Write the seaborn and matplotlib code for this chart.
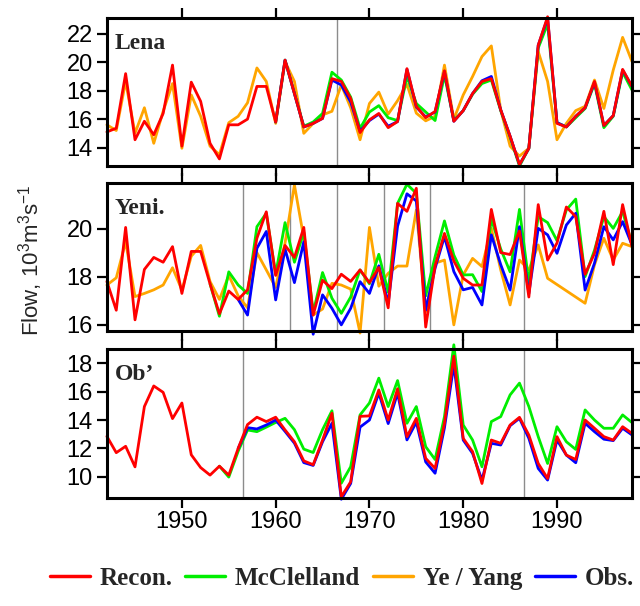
import numpy as np
import pandas as pd
import matplotlib
matplotlib.use("Agg")
import matplotlib.pyplot as plt
from matplotlib.lines import Line2D
import seaborn as sns

# ---------------- data ----------------
years_full = list(range(1942, 1999))

lena_recon = [15.1, 15.36, 19.2, 14.55, 15.85, 14.9, 16.4, 19.8, 14.1, 18.6, 17.25, 14.3, 13.2, 15.6, 15.6,
              16.0, 18.3, 18.3, 15.8, 20.15, 17.8, 15.45, 15.7, 16.05, 18.85, 18.65, 17.45, 15.05, 15.95, 16.4,
              15.4, 15.83, 19.55, 16.9, 16.1, 16.54, 19.4, 15.85, 16.6, 17.8, 18.65, 18.85, 16.65, 14.8, 12.8,
              13.95, 21.2, 23.2, 15.7, 15.45, 16.2, 16.8, 18.65, 15.55, 16.25, 19.5, 18.3]
lena_ye = [15.6, 15.2, 18.65, 15.0, 16.8, 14.3, 16.55, 18.5, 13.95, 17.7, 16.2, 14.1, 13.5, 15.75, 16.2,
           17.15, 19.6, 18.65, 15.7, 20.05, 18.65, 15.0, 15.7, 16.3, 16.55, 18.4, 16.8, 14.55, 17.1, 17.9,
           16.35, 17.3, 18.45, 16.42, 15.88, 16.2, 19.8, 16.0, 17.7, 19.0, 20.4, 21.15, 16.65, 14.1, 13.4,
           13.95, 20.75, 18.65, 14.55, 15.7, 16.6, 16.9, 18.75, 16.75, 19.45, 21.75, 20.05]
lena_mc_years = list(range(1960, 1999))
lena_mc = [15.8, 20.15, 17.8, 15.5, 15.8, 16.4, 19.3, 18.75, 17.55, 15.35, 16.5, 16.95, 16.1, 15.9, 19.0,
           17.1, 16.5, 15.9, 19.1, 15.9, 16.6, 17.75, 18.5, 18.75, 16.6, 14.75, 12.7, 13.95, 21.0, 22.7,
           15.75, 15.45, 16.1, 16.75, 18.5, 15.4, 16.2, 19.3, 18.05]
lena_obs_years = list(range(1960, 1999))
lena_obs = [15.8, 20.15, 17.8, 15.45, 15.7, 16.05, 18.75, 18.4, 17.2, 15.15, 15.9, 16.35, 15.5, 15.83, 19.5,
            16.85, 16.15, 16.5, 19.35, 15.85, 16.6, 17.8, 18.7, 19.0, 16.65, 14.8, 12.8, 13.95, 21.2, 23.1,
            15.75, 15.45, 16.2, 16.8, 18.6, 15.55, 16.25, 19.45, 18.3]

yeni_recon = [17.8, 16.6, 20.05, 16.2, 18.3, 18.8, 18.6, 19.25, 17.3, 19.05, 19.05, 17.7, 16.45, 17.4, 17.05,
              17.45, 19.6, 20.7, 18.05, 19.3, 18.8, 20.05, 16.4, 17.85, 17.5, 18.1, 17.8, 18.28, 17.75, 18.38,
              16.7, 21.05, 20.72, 21.68, 15.9, 18.45, 19.8, 18.65, 17.93, 17.65, 17.65, 20.8, 19.0, 18.92, 19.9,
              17.15, 21.0, 18.69, 19.4, 20.9, 20.5, 18.1, 18.97, 20.72, 18.5, 21.0, 19.25]
yeni_ye_years = list(range(1942, 1990)) + list(range(1993, 1999))
yeni_ye = [17.65, 17.95, 19.45, 17.17, 17.3, 17.45, 17.65, 18.37, 17.44, 18.85, 19.3, 17.8, 17.05, 18.05, 17.2,
           16.7, 19.0, 18.28, 17.55, 19.4, 21.82, 19.6, 16.4, 16.65, 17.72, 17.65, 17.48, 15.65, 20.05, 17.6,
           18.14, 18.44, 18.44, 20.78, 16.54, 18.56, 18.69, 15.99, 18.07, 18.76, 18.42, 20.01, 18.28, 16.82, 18.69,
           18.28, 19.32, 17.93,
           16.89, 18.49, 19.6, 18.69, 19.39, 19.25]
yeni_mc_years = list(range(1953, 1999))
yeni_mc = [17.7, 16.35, 18.2, 17.65, 17.3, 20.08, 20.64, 18.1, 20.25, 18.6, 19.85, 16.5, 18.17, 17.1, 16.47,
           17.15, 18.28, 17.7, 18.93, 17.35, 21.05, 21.85, 21.47, 17.2, 18.83, 20.32, 18.9, 18.07, 18.08, 17.38,
           20.4, 19.15, 18.2, 20.8, 17.75, 20.5, 20.25, 19.5, 20.78, 21.23, 18.0, 19.1, 20.5, 20.01, 20.71, 19.35]
yeni_obs_years = list(range(1956, 1999))
yeni_obs = [17.05, 16.4, 19.18, 19.88, 17.03, 19.15, 17.75, 19.45, 15.6, 17.24, 16.68, 15.99, 16.68, 17.79,
            17.3, 18.45, 16.9, 20.1, 21.45, 21.15, 16.6, 18.35, 19.67, 18.21, 17.45, 17.55, 16.82, 19.74, 18.5,
            17.44, 20.08, 17.3, 20.01, 19.74, 18.97, 20.15, 20.64, 17.44, 18.56, 20.08, 19.53, 20.29, 19.32]

ob_recon = [12.85, 11.7, 12.15, 10.7, 14.95, 16.4, 15.95, 14.1, 15.2, 11.55, 10.65, 10.12, 10.75, 10.12, 12.0,
            13.68, 14.2, 13.89, 14.2, 13.3, 12.47, 11.12, 10.85, 12.59, 14.48, 8.59, 9.65, 14.26, 14.29, 16.12,
            14.0, 16.2, 12.83, 14.12, 11.3, 10.59, 13.77, 18.5, 12.71, 11.77, 9.53, 12.59, 12.36, 13.65, 14.19,
            12.94, 10.94, 9.88, 12.83, 11.53, 11.22, 14.0, 13.42, 12.83, 12.59, 13.53, 13.06]
ob_mc_years = list(range(1954, 1999))
ob_mc = [10.75, 9.98, 11.8, 13.3, 13.18, 13.5, 13.83, 14.12, 13.32, 11.95, 11.71, 13.32, 14.65, 9.55, 10.71,
         14.36, 15.2, 16.95, 14.95, 16.78, 13.77, 14.95, 12.12, 11.22, 14.24, 19.3, 13.65, 12.59, 10.71, 13.89,
         14.24, 15.77, 16.6, 14.95, 12.83, 10.94, 13.53, 12.47, 11.93, 14.71, 14.0, 13.42, 13.42, 14.36, 13.82]
ob_obs_years = list(range(1956, 1999))
ob_obs = [12.0, 13.46, 13.37, 13.65, 14.0, 13.2, 12.37, 11.0, 10.8, 12.47, 13.77, 8.42, 9.53, 13.5, 14.0,
          15.9, 13.75, 15.9, 12.6, 13.85, 11.05, 10.25, 13.45, 17.9, 12.59, 11.65, 9.77, 12.36, 12.24, 13.6,
          14.12, 12.71, 10.59, 9.77, 12.59, 11.53, 10.99, 13.77, 13.18, 12.65, 12.55, 13.42, 12.95]

panel_names = ["Lena", "Yeni.", "Ob\u2019"]
series_names = ["Recon.", "McClelland", "Ye / Yang", "Obs."]
break_years = {"Lena": [1966.5],
               "Yeni.": [1956.5, 1961.5, 1966.5, 1971.5, 1976.5, 1986.5],
               "Ob\u2019": [1956.5, 1986.5]}
yticks = {"Lena": [14, 16, 18, 20, 22], "Yeni.": [16, 18, 20], "Ob\u2019": [10, 12, 14, 16, 18]}
ylims = {"Lena": (12.7, 23.1), "Yeni.": (15.74, 21.9), "Ob\u2019": (8.54, 19.0)}
xticks = [1950, 1960, 1970, 1980, 1990]

colors = {"Recon.": "#ff0000", "McClelland": "#00ee00", "Ye / Yang": "#ffa500", "Obs.": "#0000ff"}
draw_order = ["Ye / Yang", "McClelland", "Obs.", "Recon."]


def frame(name, pairs):
    rows = []
    for ser, (yrs, vals) in pairs.items():
        for y, v in zip(yrs, vals):
            rows.append({"year": y, "flow": v, "series": ser, "panel": name})
    return pd.DataFrame(rows)


data = {
    "Lena": frame("Lena", {"Recon.": (years_full, lena_recon), "Ye / Yang": (years_full, lena_ye),
                           "McClelland": (lena_mc_years, lena_mc), "Obs.": (lena_obs_years, lena_obs)}),
    "Yeni.": frame("Yeni.", {"Recon.": (years_full, yeni_recon), "Ye / Yang": (yeni_ye_years, yeni_ye),
                             "McClelland": (yeni_mc_years, yeni_mc), "Obs.": (yeni_obs_years, yeni_obs)}),
    "Ob\u2019": frame("Ob\u2019", {"Recon.": (years_full, ob_recon),
                                  "McClelland": (ob_mc_years, ob_mc), "Obs.": (ob_obs_years, ob_obs)}),
}

# ---------------- figure ----------------
sns.set_theme(style="white")
plt.rcParams["font.family"] = ["Liberation Sans", "DejaVu Sans"]
plt.rcParams["mathtext.fontset"] = "custom"
plt.rcParams["mathtext.rm"] = "Liberation Sans"
plt.rcParams["mathtext.it"] = "Liberation Sans"

fig = plt.figure(figsize=(6.4, 6.06), dpi=100)
left, right = 0.167, 0.9875
boxes = [(0.726, 0.970), (0.454, 0.698), (0.179, 0.424)]

for i, name in enumerate(panel_names):
    b, t = boxes[i]
    ax = fig.add_axes([left, b, right - left, t - b])
    df = data[name]
    order = [s for s in draw_order if s in df["series"].unique()]
    for gy in break_years[name]:
        ax.axvline(gy, color="#8c8c8c", lw=1.0, zorder=0.5)
    for s in order:
        sub = df[df["series"] == s]
        sns.lineplot(data=sub, x="year", y="flow", color=colors[s], lw=2.0, ax=ax,
                     legend=False, sort=True, estimator=None)
    for ln in ax.lines:
        ln.set_clip_on(False)
    ax.set_xlim(1942, 1998)
    ax.set_ylim(*ylims[name])
    ax.set_xticks(xticks)
    ax.set_yticks(yticks[name])
    ax.set_xlabel("")
    ax.set_ylabel("")
    for sp in ax.spines.values():
        sp.set_visible(True)
        sp.set_linewidth(2.2)
        sp.set_color("black")
        sp.set_zorder(5)
    ax.tick_params(axis="both", direction="out", length=7, width=1.6, color="black",
                   top=True, right=True, bottom=True, left=True,
                   labelsize=17, labelcolor="black", pad=3)
    ax.tick_params(axis="x", labelbottom=(i == 2), labeltop=False)
    ax.tick_params(axis="y", labelleft=True, labelright=False)
    ax.text(0.015, 0.90, name, transform=ax.transAxes, ha="left", va="top",
            fontsize=17, fontweight="bold", family=["Liberation Serif", "DejaVu Serif"])

fig.text(0.047, 0.57, r"Flow, 10$^3$m$^3$s$^{-1}$", rotation=90, ha="center", va="center",
         fontsize=16)

handles = [Line2D([0], [0], color=colors[s], lw=2.5) for s in series_names]
fig.legend(handles, series_names, loc="center", bbox_to_anchor=(0.534, 0.045), ncol=4,
           frameon=False, handlelength=1.6, columnspacing=0.5, handletextpad=0.4,
           borderpad=0.1, borderaxespad=0.0,
           prop={"family": ["Liberation Serif", "DejaVu Serif"], "weight": "bold", "size": 18})

fig.savefig("out.png", dpi=100)
